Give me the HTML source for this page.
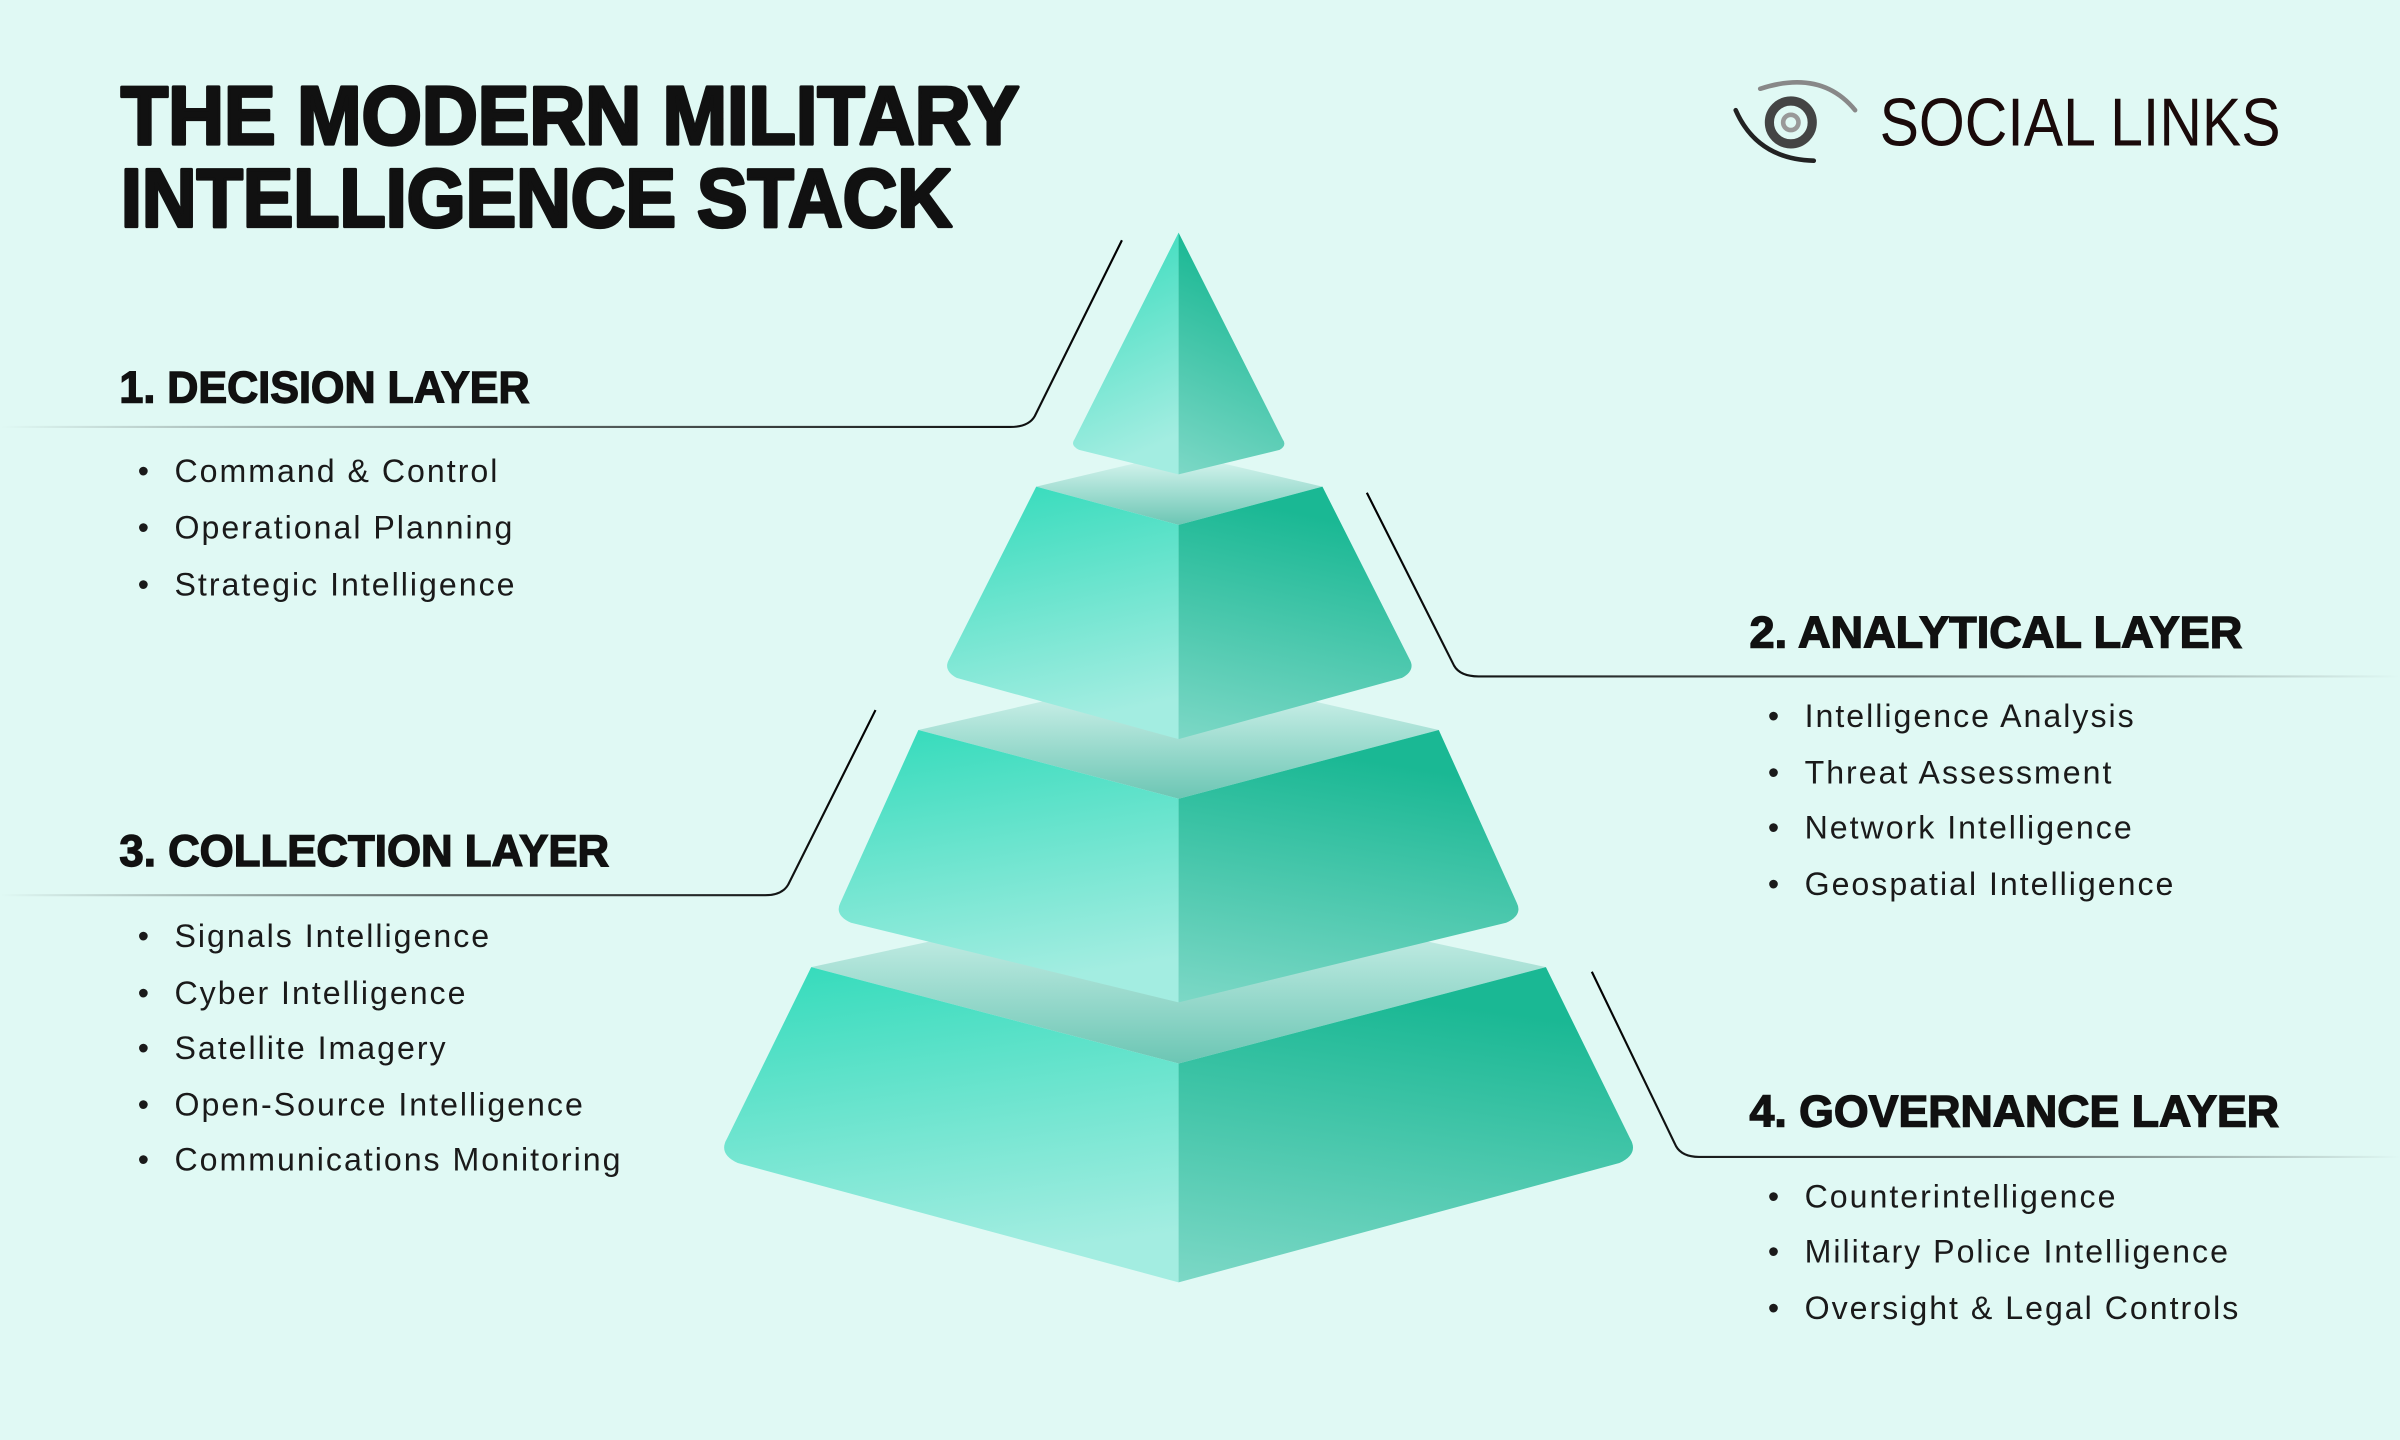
<!DOCTYPE html>
<html><head><meta charset="utf-8"><style>
html,body{margin:0;padding:0;background:#e0f9f4;}
svg{display:block}
text{font-family:"Liberation Sans",sans-serif;fill:#111}
.h{font-weight:bold;font-size:29px;stroke:#111;stroke-width:0.9}
.b{font-size:21px;fill:#1a1a1a;letter-spacing:1.3px}
.t{font-weight:900;font-size:54px;stroke:#111;stroke-width:2.2;stroke-linejoin:round}
</style></head><body>
<svg width="2400" height="1440" viewBox="0 0 1568 941" preserveAspectRatio="none" xmlns="http://www.w3.org/2000/svg">
<defs>
<linearGradient id="lf" x1="0" y1="0" x2="0.2" y2="1"><stop offset="0" stop-color="#33dbbb"/><stop offset="1" stop-color="#a3ede1"/></linearGradient>
<linearGradient id="rf" x1="0" y1="0" x2="-0.2" y2="1"><stop offset="0" stop-color="#1ab894"/><stop offset="1" stop-color="#80d9c8"/></linearGradient>
<linearGradient id="tf" x1="0" y1="0" x2="0" y2="1"><stop offset="0" stop-color="#e0f9f4"/><stop offset="1" stop-color="#6cc6b4"/></linearGradient>
<linearGradient id="ll" x1="0" y1="0" x2="1" y2="0"><stop offset="0" stop-color="#000" stop-opacity="0"/><stop offset="0.5" stop-color="#000" stop-opacity="0.6"/><stop offset="1" stop-color="#000"/></linearGradient>
<linearGradient id="rl" x1="0" y1="0" x2="1" y2="0"><stop offset="0" stop-color="#000"/><stop offset="0.5" stop-color="#000" stop-opacity="0.6"/><stop offset="1" stop-color="#000" stop-opacity="0"/></linearGradient>
</defs>
<rect width="1568" height="941" fill="#e0f9f4"/>
<!-- title -->
<text class="t" x="79" y="94" textLength="587" lengthAdjust="spacingAndGlyphs">THE MODERN MILITARY</text>
<text class="t" x="79" y="148" textLength="543" lengthAdjust="spacingAndGlyphs">INTELLIGENCE STACK</text>
<!-- logo -->
<g fill="none" stroke-linecap="round">
<path d="M1134 72 Q1148 104 1185 105" stroke="#222" stroke-width="3"/>
<path d="M1150 58 Q1190 45 1212 72" stroke="#888" stroke-width="3"/>
<circle cx="1170" cy="80" r="14" stroke="#444" stroke-width="6"/>
<circle cx="1170" cy="80" r="5" stroke="#999" stroke-width="3"/>
</g>
<text x="1228" y="95" style="font-size:44px;fill:#1a0a0a" textLength="262" lengthAdjust="spacingAndGlyphs">SOCIAL LINKS</text>
<!-- connectors -->
<g fill="none" stroke-width="1.4">
<path d="M733 157 L676 272 Q672 279 660 279 L0 279" stroke="url(#ll)"/>
<path d="M893 322 L950 435 Q954 442 966 442 L1568 442" stroke="url(#rl)"/>
<path d="M572 464 L515 578 Q511 585 500 585 L0 585" stroke="url(#ll)"/>
<path d="M1040 635 L1095 749 Q1099 756 1110 756 L1568 756" stroke="url(#rl)"/>
</g>
<!-- top faces -->
<polygon points="677,318 770,296 864,318 770,343" fill="url(#tf)"/>
<polygon points="600,477 770,438 940,477 770,522" fill="url(#tf)"/>
<polygon points="530,632 770,580 1010,632 770,695" fill="url(#tf)"/>
<!-- tier 1 -->
<path d="M770 152 L770 310 L705 294 Q699 291 702 287 Z" fill="url(#lf)"/>
<path d="M770 152 L770 310 L836 294 Q841 291 838 287 Z" fill="url(#rf)"/>
<!-- tier 2 -->
<path d="M677 318 L770 343 L770 483 L625 443 Q616 438 620 431 Z" fill="url(#lf)"/>
<path d="M864 318 L770 343 L770 483 L916 443 Q925 438 921 431 Z" fill="url(#rf)"/>
<!-- tier 3 -->
<path d="M600 477 L770 522 L770 655 L556 603 Q545 598 549 590 Z" fill="url(#lf)"/>
<path d="M940 477 L770 522 L770 655 L984 603 Q995 598 991 590 Z" fill="url(#rf)"/>
<!-- tier 4 -->
<path d="M530 632 L770 695 L770 838 L482 760 Q469 754 475 744 Z" fill="url(#lf)"/>
<path d="M1010 632 L770 695 L770 838 L1058 760 Q1071 754 1065 744 Z" fill="url(#rf)"/>
<!-- headings -->
<text class="h" x="78" y="263" textLength="268" lengthAdjust="spacingAndGlyphs">1. DECISION LAYER</text>
<text class="h" x="1143" y="423" textLength="322" lengthAdjust="spacingAndGlyphs">2. ANALYTICAL LAYER</text>
<text class="h" x="78" y="566" textLength="320" lengthAdjust="spacingAndGlyphs">3. COLLECTION LAYER</text>
<text class="h" x="1143" y="736" textLength="346" lengthAdjust="spacingAndGlyphs">4. GOVERNANCE LAYER</text>
<!-- bullets -->
<g>
<text class="b" x="90" y="315">•</text><text class="b" x="114" y="315">Command &amp; Control</text>
<text class="b" x="90" y="352">•</text><text class="b" x="114" y="352">Operational Planning</text>
<text class="b" x="90" y="389">•</text><text class="b" x="114" y="389">Strategic Intelligence</text>

<text class="b" x="1155" y="475">•</text><text class="b" x="1179" y="475">Intelligence Analysis</text>
<text class="b" x="1155" y="512">•</text><text class="b" x="1179" y="512">Threat Assessment</text>
<text class="b" x="1155" y="548">•</text><text class="b" x="1179" y="548">Network Intelligence</text>
<text class="b" x="1155" y="585">•</text><text class="b" x="1179" y="585">Geospatial Intelligence</text>

<text class="b" x="90" y="619">•</text><text class="b" x="114" y="619">Signals Intelligence</text>
<text class="b" x="90" y="656">•</text><text class="b" x="114" y="656">Cyber Intelligence</text>
<text class="b" x="90" y="692">•</text><text class="b" x="114" y="692">Satellite Imagery</text>
<text class="b" x="90" y="729">•</text><text class="b" x="114" y="729">Open-Source Intelligence</text>
<text class="b" x="90" y="765">•</text><text class="b" x="114" y="765">Communications Monitoring</text>

<text class="b" x="1155" y="789">•</text><text class="b" x="1179" y="789">Counterintelligence</text>
<text class="b" x="1155" y="825">•</text><text class="b" x="1179" y="825">Military Police Intelligence</text>
<text class="b" x="1155" y="862">•</text><text class="b" x="1179" y="862">Oversight &amp; Legal Controls</text>
</g>
</svg>
</body></html>
